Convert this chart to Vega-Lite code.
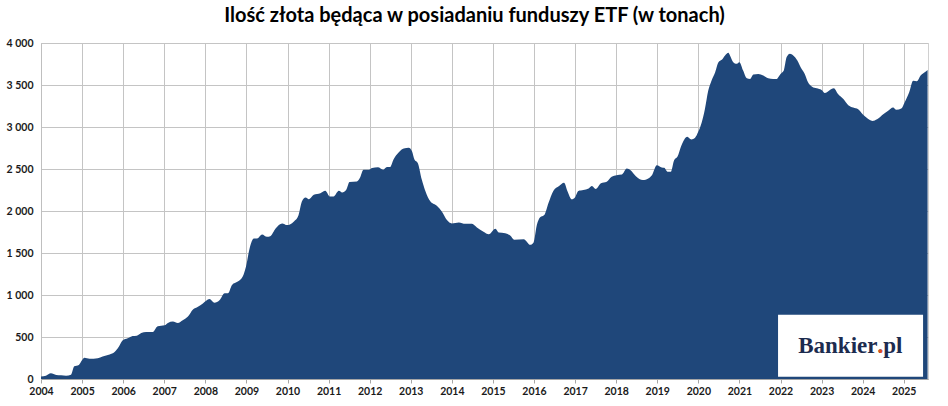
{
  "$schema": "https://vega.github.io/schema/vega-lite/v6.json",
  "autosize": "none",
  "padding": {"left": 41, "top": 43, "right": 20, "bottom": 27},
  "width": 887,
  "height": 336,
  "background": "white",
  "title": {
    "text": "Ilość złota będąca w posiadaniu funduszy ETF (w tonach)",
    "font": "Lato",
    "fontSize": 20,
    "fontWeight": "bold",
    "color": "#000000",
    "anchor": "middle",
    "dx": -10,
    "offset": 12
  },
  "config": {
    "view": {"stroke": "#d0d0d0"},
    "axis": {
      "labelFont": "Lato",
      "labelFontSize": 10.5,
      "labelFontWeight": "bold",
      "labelColor": "#1a1a1a",
      "grid": true,
      "gridColor": "#c4c4c4",
      "gridOpacity": 1,
      "gridWidth": 1,
      "domainColor": "#a6a6a6",
      "tickColor": "#a6a6a6",
      "title": null
    }
  },
  "layer": [
    {
      "data": {
        "values": [
          {"year": 2004.00, "tons": 30},
          {"year": 2004.12, "tons": 40},
          {"year": 2004.24, "tons": 68},
          {"year": 2004.37, "tons": 48},
          {"year": 2004.49, "tons": 44},
          {"year": 2004.61, "tons": 40},
          {"year": 2004.73, "tons": 52},
          {"year": 2004.81, "tons": 152},
          {"year": 2004.92, "tons": 168},
          {"year": 2005.06, "tons": 252},
          {"year": 2005.18, "tons": 240},
          {"year": 2005.38, "tons": 248},
          {"year": 2005.50, "tons": 268},
          {"year": 2005.67, "tons": 292},
          {"year": 2005.79, "tons": 320},
          {"year": 2005.89, "tons": 380},
          {"year": 2005.99, "tons": 460},
          {"year": 2006.11, "tons": 484},
          {"year": 2006.23, "tons": 512},
          {"year": 2006.33, "tons": 516},
          {"year": 2006.44, "tons": 548},
          {"year": 2006.56, "tons": 560},
          {"year": 2006.72, "tons": 560},
          {"year": 2006.84, "tons": 628},
          {"year": 2007.01, "tons": 640},
          {"year": 2007.09, "tons": 668},
          {"year": 2007.21, "tons": 684},
          {"year": 2007.33, "tons": 668},
          {"year": 2007.45, "tons": 700},
          {"year": 2007.57, "tons": 740},
          {"year": 2007.70, "tons": 828},
          {"year": 2007.82, "tons": 860},
          {"year": 2007.94, "tons": 900},
          {"year": 2008.10, "tons": 952},
          {"year": 2008.22, "tons": 908},
          {"year": 2008.35, "tons": 940},
          {"year": 2008.47, "tons": 1020},
          {"year": 2008.55, "tons": 1020},
          {"year": 2008.65, "tons": 1120},
          {"year": 2008.79, "tons": 1160},
          {"year": 2008.91, "tons": 1220},
          {"year": 2008.99, "tons": 1340},
          {"year": 2009.08, "tons": 1560},
          {"year": 2009.18, "tons": 1672},
          {"year": 2009.26, "tons": 1672},
          {"year": 2009.38, "tons": 1720},
          {"year": 2009.50, "tons": 1692},
          {"year": 2009.58, "tons": 1700},
          {"year": 2009.71, "tons": 1792},
          {"year": 2009.87, "tons": 1852},
          {"year": 2009.99, "tons": 1832},
          {"year": 2010.15, "tons": 1872},
          {"year": 2010.27, "tons": 1952},
          {"year": 2010.35, "tons": 2112},
          {"year": 2010.44, "tons": 2160},
          {"year": 2010.52, "tons": 2140},
          {"year": 2010.64, "tons": 2192},
          {"year": 2010.80, "tons": 2212},
          {"year": 2010.92, "tons": 2240},
          {"year": 2011.03, "tons": 2172},
          {"year": 2011.12, "tons": 2172},
          {"year": 2011.25, "tons": 2240},
          {"year": 2011.33, "tons": 2220},
          {"year": 2011.43, "tons": 2252},
          {"year": 2011.51, "tons": 2344},
          {"year": 2011.69, "tons": 2352},
          {"year": 2011.76, "tons": 2392},
          {"year": 2011.85, "tons": 2492},
          {"year": 2011.98, "tons": 2492},
          {"year": 2012.06, "tons": 2512},
          {"year": 2012.20, "tons": 2520},
          {"year": 2012.33, "tons": 2492},
          {"year": 2012.42, "tons": 2524},
          {"year": 2012.50, "tons": 2524},
          {"year": 2012.58, "tons": 2612},
          {"year": 2012.71, "tons": 2700},
          {"year": 2012.83, "tons": 2744},
          {"year": 2012.95, "tons": 2752},
          {"year": 2013.03, "tons": 2712},
          {"year": 2013.09, "tons": 2612},
          {"year": 2013.17, "tons": 2572},
          {"year": 2013.27, "tons": 2372},
          {"year": 2013.36, "tons": 2232},
          {"year": 2013.48, "tons": 2112},
          {"year": 2013.64, "tons": 2060},
          {"year": 2013.76, "tons": 1992},
          {"year": 2013.88, "tons": 1892},
          {"year": 2014.00, "tons": 1852},
          {"year": 2014.17, "tons": 1864},
          {"year": 2014.33, "tons": 1848},
          {"year": 2014.49, "tons": 1848},
          {"year": 2014.61, "tons": 1804},
          {"year": 2014.77, "tons": 1752},
          {"year": 2014.90, "tons": 1722},
          {"year": 2015.06, "tons": 1788},
          {"year": 2015.14, "tons": 1744},
          {"year": 2015.30, "tons": 1736},
          {"year": 2015.42, "tons": 1708},
          {"year": 2015.52, "tons": 1657},
          {"year": 2015.75, "tons": 1665},
          {"year": 2015.91, "tons": 1598},
          {"year": 2015.99, "tons": 1626},
          {"year": 2016.07, "tons": 1835},
          {"year": 2016.15, "tons": 1926},
          {"year": 2016.25, "tons": 1953},
          {"year": 2016.35, "tons": 2092},
          {"year": 2016.47, "tons": 2238},
          {"year": 2016.61, "tons": 2297},
          {"year": 2016.73, "tons": 2336},
          {"year": 2016.82, "tons": 2230},
          {"year": 2016.92, "tons": 2139},
          {"year": 2017.00, "tons": 2163},
          {"year": 2017.08, "tons": 2238},
          {"year": 2017.20, "tons": 2250},
          {"year": 2017.33, "tons": 2269},
          {"year": 2017.41, "tons": 2297},
          {"year": 2017.50, "tons": 2261},
          {"year": 2017.63, "tons": 2329},
          {"year": 2017.77, "tons": 2348},
          {"year": 2017.89, "tons": 2408},
          {"year": 2018.01, "tons": 2427},
          {"year": 2018.14, "tons": 2435},
          {"year": 2018.26, "tons": 2506},
          {"year": 2018.35, "tons": 2486},
          {"year": 2018.48, "tons": 2415},
          {"year": 2018.65, "tons": 2368},
          {"year": 2018.78, "tons": 2388},
          {"year": 2018.87, "tons": 2427},
          {"year": 2018.99, "tons": 2546},
          {"year": 2019.11, "tons": 2518},
          {"year": 2019.17, "tons": 2514},
          {"year": 2019.25, "tons": 2467},
          {"year": 2019.33, "tons": 2467},
          {"year": 2019.41, "tons": 2605},
          {"year": 2019.49, "tons": 2645},
          {"year": 2019.59, "tons": 2783},
          {"year": 2019.73, "tons": 2885},
          {"year": 2019.83, "tons": 2852},
          {"year": 2019.92, "tons": 2872},
          {"year": 2020.00, "tons": 2945},
          {"year": 2020.08, "tons": 3050},
          {"year": 2020.16, "tons": 3215},
          {"year": 2020.24, "tons": 3432},
          {"year": 2020.32, "tons": 3552},
          {"year": 2020.41, "tons": 3652},
          {"year": 2020.49, "tons": 3772},
          {"year": 2020.57, "tons": 3800},
          {"year": 2020.65, "tons": 3852},
          {"year": 2020.73, "tons": 3884},
          {"year": 2020.77, "tons": 3852},
          {"year": 2020.85, "tons": 3772},
          {"year": 2020.93, "tons": 3752},
          {"year": 2021.00, "tons": 3772},
          {"year": 2021.09, "tons": 3672},
          {"year": 2021.18, "tons": 3580},
          {"year": 2021.26, "tons": 3572},
          {"year": 2021.34, "tons": 3624},
          {"year": 2021.46, "tons": 3632},
          {"year": 2021.58, "tons": 3612},
          {"year": 2021.70, "tons": 3580},
          {"year": 2021.82, "tons": 3572},
          {"year": 2021.90, "tons": 3572},
          {"year": 2022.00, "tons": 3632},
          {"year": 2022.08, "tons": 3672},
          {"year": 2022.15, "tons": 3832},
          {"year": 2022.23, "tons": 3872},
          {"year": 2022.31, "tons": 3852},
          {"year": 2022.41, "tons": 3792},
          {"year": 2022.49, "tons": 3712},
          {"year": 2022.59, "tons": 3632},
          {"year": 2022.67, "tons": 3532},
          {"year": 2022.77, "tons": 3480},
          {"year": 2022.88, "tons": 3460},
          {"year": 2023.00, "tons": 3440},
          {"year": 2023.08, "tons": 3404},
          {"year": 2023.18, "tons": 3432},
          {"year": 2023.30, "tons": 3460},
          {"year": 2023.40, "tons": 3392},
          {"year": 2023.53, "tons": 3332},
          {"year": 2023.65, "tons": 3260},
          {"year": 2023.77, "tons": 3232},
          {"year": 2023.89, "tons": 3212},
          {"year": 2024.00, "tons": 3152},
          {"year": 2024.09, "tons": 3112},
          {"year": 2024.24, "tons": 3072},
          {"year": 2024.35, "tons": 3092},
          {"year": 2024.50, "tons": 3152},
          {"year": 2024.62, "tons": 3192},
          {"year": 2024.74, "tons": 3232},
          {"year": 2024.82, "tons": 3204},
          {"year": 2024.94, "tons": 3220},
          {"year": 2025.02, "tons": 3292},
          {"year": 2025.13, "tons": 3412},
          {"year": 2025.23, "tons": 3552},
          {"year": 2025.32, "tons": 3544},
          {"year": 2025.41, "tons": 3612},
          {"year": 2025.51, "tons": 3652},
          {"year": 2025.58, "tons": 3680}
        ]
      },
      "mark": {"type": "area", "color": "#1f477a", "interpolate": "monotone"},
      "encoding": {
        "x": {
          "field": "year",
          "type": "quantitative",
          "scale": {"domain": [2004, 2025.59], "nice": false, "zero": false},
          "axis": {
            "values": [2004, 2004.5, 2005, 2005.5, 2006, 2006.5, 2007, 2007.5, 2008, 2008.5, 2009, 2009.5, 2010, 2010.5, 2011, 2011.5, 2012, 2012.5, 2013, 2013.5, 2014, 2014.5, 2015, 2015.5, 2016, 2016.5, 2017, 2017.5, 2018, 2018.5, 2019, 2019.5, 2020, 2020.5, 2021, 2021.5, 2022, 2022.5, 2023, 2023.5, 2024, 2024.5, 2025, 2025.5],
            "labelExpr": "datum.value % 1 == 0 ? format(datum.value, 'd') : ''",
            "labelOverlap": false,
            "labelFlush": false,
            "grid": true,
            "gridColor": "#c4c4c4",
            "tickSize": 4,
            "tickColor": {"condition": {"test": "datum.value % 1 != 0", "value": "transparent"}, "value": "#a6a6a6"},
            "labelPadding": 3
          }
        },
        "y": {
          "field": "tons",
          "type": "quantitative",
          "scale": {"domain": [0, 4000], "nice": false},
          "axis": {
            "values": [0, 500, 1000, 1500, 2000, 2500, 3000, 3500, 4000],
            "labelExpr": "replace(format(datum.value, ','), ',', ' ')",
            "grid": true,
            "gridColor": "#c4c4c4",
            "ticks": false,
            "labelPadding": 8,
            "domainColor": "#bfbfbf"
          }
        }
      }
    },
    {
      "data": {"values": [{}]},
      "mark": {"type": "rect", "color": "white"},
      "encoding": {
        "x": {"datum": 2021.94, "type": "quantitative"},
        "x2": {"datum": 2025.47},
        "y": {"datum": 27, "type": "quantitative"},
        "y2": {"datum": 766}
      }
    },
    {
      "data": {"values": [{}]},
      "mark": {"type": "text", "text": "Bankier", "font": "Liberation Serif", "fontSize": 23, "fontWeight": "bold", "color": "#1c2b4f", "align": "right", "baseline": "alphabetic"},
      "encoding": {
        "x": {"datum": 2024.36, "type": "quantitative"},
        "y": {"datum": 313, "type": "quantitative"}
      }
    },
    {
      "data": {"values": [{}]},
      "mark": {"type": "text", "text": ".pl", "font": "Liberation Serif", "fontSize": 23, "fontWeight": "bold", "color": "#1c2b4f", "align": "left", "baseline": "alphabetic"},
      "encoding": {
        "x": {"datum": 2024.36, "type": "quantitative"},
        "y": {"datum": 313, "type": "quantitative"}
      }
    },
    {
      "data": {"values": [{}]},
      "mark": {"type": "text", "text": ".", "font": "Liberation Serif", "fontSize": 23, "fontWeight": "bold", "color": "#e2501f", "align": "left", "baseline": "alphabetic"},
      "encoding": {
        "x": {"datum": 2024.36, "type": "quantitative"},
        "y": {"datum": 313, "type": "quantitative"}
      }
    }
  ]
}
